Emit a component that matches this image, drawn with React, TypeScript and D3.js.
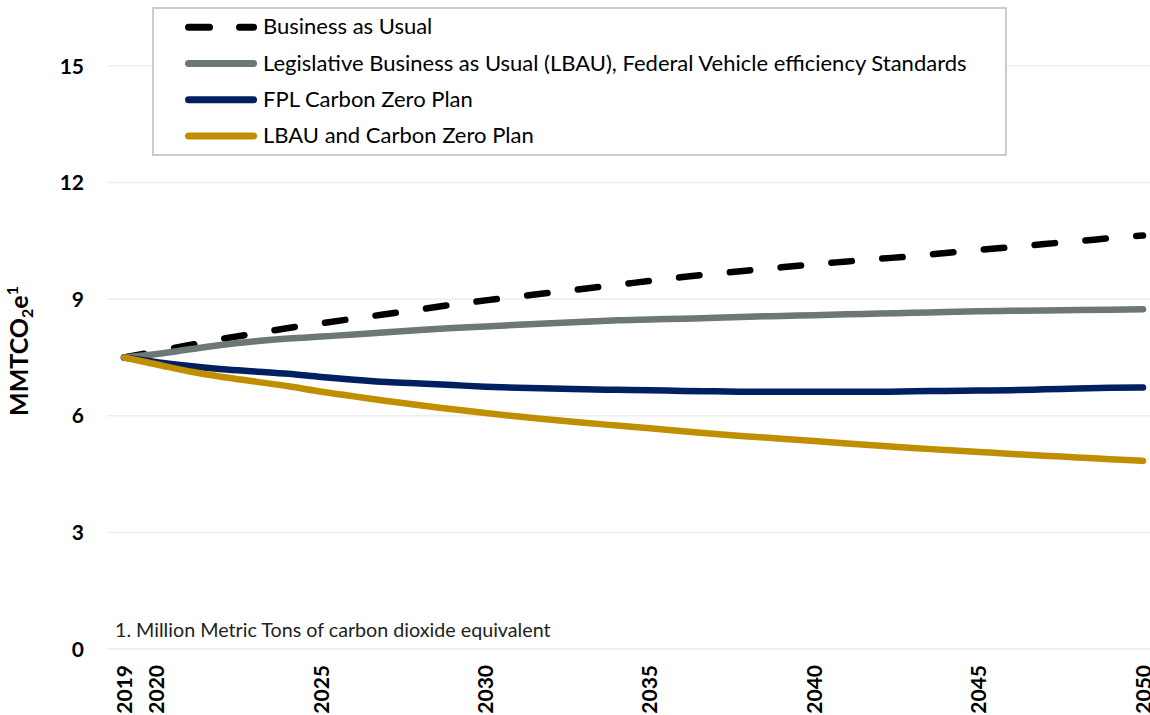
import { useEffect, useRef } from 'react';
import * as d3 from 'd3';

const years = d3.range(2019, 2051);

const businessAsUsual = [
  7.5, 7.66, 7.82, 7.98, 8.12, 8.26, 8.38, 8.5, 8.62, 8.74, 8.86, 8.97, 9.07, 9.17, 9.27, 9.37,
  9.47, 9.57, 9.66, 9.74, 9.82, 9.9, 9.97, 10.04, 10.11, 10.19, 10.27, 10.34, 10.42, 10.49, 10.57, 10.64
];
const legislativeBau = [
  7.5, 7.59, 7.71, 7.83, 7.92, 7.99, 8.04, 8.09, 8.15, 8.21, 8.26, 8.3, 8.34, 8.38, 8.42, 8.46,
  8.48, 8.5, 8.52, 8.55, 8.57, 8.59, 8.61, 8.63, 8.65, 8.67, 8.69, 8.7, 8.71, 8.72, 8.73, 8.74
];
const fplCarbonZero = [
  7.5, 7.38, 7.28, 7.2, 7.14, 7.08, 7.0, 6.93, 6.87, 6.83, 6.79, 6.75, 6.72, 6.7, 6.68, 6.67,
  6.66, 6.64, 6.63, 6.62, 6.62, 6.62, 6.62, 6.62, 6.63, 6.64, 6.65, 6.66, 6.68, 6.7, 6.72, 6.73
];
const lbauCarbonZero = [
  7.5, 7.32, 7.14, 7.0, 6.88, 6.76, 6.62, 6.5, 6.38, 6.27, 6.17, 6.07, 5.98, 5.9, 5.82, 5.75,
  5.68, 5.6, 5.53, 5.47, 5.41, 5.35, 5.29, 5.23, 5.17, 5.12, 5.07, 5.02, 4.97, 4.93, 4.88, 4.84
];

const xTicks = [2019, 2020, 2025, 2030, 2035, 2040, 2045, 2050];
const yTicks = [0, 3, 6, 9, 12, 15];

const series = [
  { name: 'Business as Usual', values: businessAsUsual, color: '#000000', dashed: true },
  {
    name: 'Legislative Business as Usual (LBAU), Federal Vehicle efficiency Standards',
    values: legislativeBau,
    color: '#6d7775',
    dashed: false
  },
  { name: 'FPL Carbon Zero Plan', values: fplCarbonZero, color: '#002060', dashed: false },
  { name: 'LBAU and Carbon Zero Plan', values: lbauCarbonZero, color: '#bf8f00', dashed: false }
];

const FONT = 'Lato, "Open Sans", sans-serif';

export default function App() {
  const svgRef = useRef<SVGSVGElement | null>(null);

  useEffect(() => {
    const svg = svgRef.current;
    if (!svg) return;

    const width = 1150;
    const height = 715;

    const x = d3.scaleLinear().domain([2019, 2050]).range([124, 1143]);
    const y = d3.scaleLinear().domain([0, 15]).range([649, 66]);

    const root = d3.select(svg);
    root.selectAll('*').remove();
    root.attr('viewBox', `0 0 ${width} ${height}`);

    // gridlines
    root
      .append('g')
      .selectAll('line')
      .data(yTicks)
      .join('line')
      .attr('x1', 107)
      .attr('x2', 1150)
      .attr('y1', (d) => y(d))
      .attr('y2', (d) => y(d))
      .attr('stroke', '#ebeded')
      .attr('stroke-width', 1.5);

    // y labels
    root
      .append('g')
      .selectAll('text')
      .data(yTicks)
      .join('text')
      .attr('x', 84)
      .attr('y', (d) => y(d))
      .attr('dy', '0.36em')
      .attr('text-anchor', 'end')
      .attr('font-family', FONT)
      .attr('font-weight', 700)
      .attr('font-size', 21)
      .attr('fill', '#000')
      .text((d) => d);

    // x labels, rotated (last one runs off the right edge, as in the source)
    root
      .append('g')
      .selectAll('text')
      .data(xTicks)
      .join('text')
      .attr('transform', (d) => `translate(${x(d)},665) rotate(-90)`)
      .attr('dy', '0.36em')
      .attr('text-anchor', 'end')
      .attr('font-family', FONT)
      .attr('font-weight', 700)
      .attr('font-size', 21)
      .attr('fill', '#000')
      .text((d) => d);

    // y title with sub/superscript
    const title = root
      .append('text')
      .attr('transform', 'translate(28,416) rotate(-90)')
      .attr('font-family', FONT)
      .attr('font-weight', 700)
      .attr('font-size', 25)
      .attr('fill', '#000');
    title.append('tspan').text('MMTCO');
    title.append('tspan').attr('font-size', 16).attr('dy', 5).text('2');
    title.append('tspan').attr('dy', -5).text('e');
    title.append('tspan').attr('font-size', 16).attr('dy', -10).text('1');

    // footnote
    root
      .append('text')
      .attr('x', 115)
      .attr('y', 637)
      .attr('font-family', FONT)
      .attr('font-size', 19.7)
      .attr('fill', '#222')
      .text('1. Million Metric Tons of carbon dioxide equivalent');

    const line = d3
      .line<number>()
      .x((_, i) => x(years[i]))
      .y((d) => y(d))
      .curve(d3.curveMonotoneX);

    root
      .append('g')
      .selectAll('path')
      .data(series)
      .join('path')
      .attr('d', (s) => line(s.values))
      .attr('fill', 'none')
      .attr('stroke', (s) => s.color)
      .attr('stroke-width', 6.5)
      .attr('stroke-linecap', 'round')
      .attr('stroke-linejoin', 'round')
      .attr('stroke-dasharray', (s) => (s.dashed ? '20.5 30.5' : null));

    // legend
    const legend = root.append('g');
    legend
      .append('rect')
      .attr('x', 153)
      .attr('y', 8)
      .attr('width', 853)
      .attr('height', 147)
      .attr('fill', '#fff')
      .attr('stroke', '#c9cdcb')
      .attr('stroke-width', 2);

    const rowY = d3.scaleLinear().domain([0, 3]).range([27.3, 136]);
    const rows = legend
      .selectAll('g')
      .data(series)
      .join('g')
      .attr('transform', (_, i) => `translate(0,${rowY(i)})`);

    rows
      .append('line')
      .attr('x1', 188.5)
      .attr('x2', 253.5)
      .attr('stroke', (s) => s.color)
      .attr('stroke-width', 7)
      .attr('stroke-linecap', 'round')
      .attr('stroke-dasharray', (s) => (s.dashed ? '21 30' : null));

    rows
      .append('text')
      .attr('x', 263)
      .attr('y', 7)
      .attr('font-family', FONT)
      .attr('font-size', 22)
      .attr('fill', '#000')
      .text((s) => s.name);
  }, []);

  return (
    <div style={{ position: 'absolute', left: 0, top: 0 }}>
      <svg ref={svgRef} width={1150} height={715} style={{ display: 'block' }} />
    </div>
  );
}
